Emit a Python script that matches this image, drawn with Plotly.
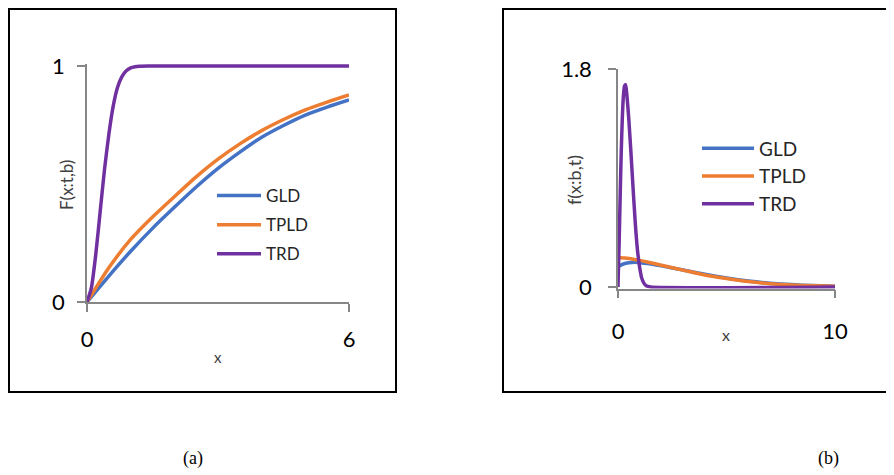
import plotly.graph_objects as go

# ---------- data ----------
series_names = ["GLD", "TPLD", "TRD"]
series_colors = ["#4472C4", "#ED7D31", "#7030A0"]

# panel (a): CDF F(x:t,b)
x_cdf = [0, 0.5, 1, 1.5, 2, 2.5, 3, 3.5, 4, 4.5, 5, 5.5, 6]
F_gld = [0, 0.11, 0.215, 0.312, 0.401, 0.487, 0.566, 0.635, 0.698, 0.748, 0.792, 0.826, 0.856]
F_tpld = [0, 0.145, 0.265, 0.36, 0.446, 0.53, 0.605, 0.67, 0.726, 0.773, 0.814, 0.847, 0.877]
x_cdf_trd = [0, 0.1, 0.2, 0.3, 0.4, 0.5, 0.6, 0.7, 0.8, 0.9, 1.0, 1.1, 1.2, 1.4, 6]
F_trd = [0, 0.06, 0.2, 0.38, 0.56, 0.71, 0.83, 0.91, 0.955, 0.98, 0.992, 0.997, 0.999, 1, 1]

# panel (b): PDF f(x:b,t)
x_pdf = [0, 0.25, 0.5, 0.75, 1, 1.5, 2, 3, 4, 5, 6, 7, 8, 9, 10]
f_gld = [0.17, 0.19, 0.2, 0.205, 0.2, 0.19, 0.175, 0.14, 0.105, 0.075, 0.05, 0.032, 0.02, 0.012, 0.007]
f_tpld = [0.245, 0.24, 0.235, 0.228, 0.22, 0.2, 0.18, 0.14, 0.1, 0.07, 0.045, 0.028, 0.017, 0.01, 0.006]
x_pdf_trd = [0, 0.05, 0.1, 0.15, 0.2, 0.25, 0.3, 0.35, 0.4, 0.5, 0.6, 0.7, 0.8, 0.9, 1.0, 1.1, 1.2, 1.3, 1.5, 10]
f_trd = [0, 0.35, 0.75, 1.12, 1.4, 1.58, 1.66, 1.67, 1.6, 1.38, 1.1, 0.8, 0.52, 0.3, 0.16, 0.07, 0.03, 0.01, 0, 0]

xticks_a = [0, 6]
yticks_a = [0, 1]
xticks_b = [0, 10]
yticks_b = [0, 1.8]
ytext_b = ["0", "1.8"]

W, H = 894, 475
OFF = 8  # page body margin of the browser
FONT = "Lato, 'Open Sans', sans-serif"
AX = "#868686"


def px(x):
    return (x - OFF) / W


def py(y):
    return 1 - (y - OFF) / H


fig = go.Figure()

cdf_sets = [(x_cdf, F_gld), (x_cdf, F_tpld), (x_cdf_trd, F_trd)]
pdf_sets = [(x_pdf, f_gld), (x_pdf, f_tpld), (x_pdf_trd, f_trd)]

for i, (xs, ys) in enumerate(cdf_sets):
    fig.add_trace(go.Scatter(
        x=xs, y=ys, mode="lines", name=series_names[i],
        line=dict(color=series_colors[i], width=3.5, shape="spline", smoothing=0.6),
        xaxis="x", yaxis="y", legend="legend", legendgroup="a%d" % i,
    ))
for i, (xs, ys) in enumerate(pdf_sets):
    fig.add_trace(go.Scatter(
        x=xs, y=ys, mode="lines", name=series_names[i],
        line=dict(color=series_colors[i], width=3.5, shape="spline", smoothing=0.6),
        xaxis="x2", yaxis="y2", legend="legend2", legendgroup="b%d" % i,
    ))

axis_common = dict(
    showgrid=False, zeroline=False, showline=True, linecolor=AX, linewidth=1.5,
    ticks="outside", ticklen=8, tickwidth=1.5, tickcolor=AX, automargin=False,
    tickfont=dict(family=FONT, size=22, color="#000000"),
)

fig.update_layout(
    template="none",
    width=W, height=H, autosize=False,
    margin=dict(l=0, r=0, t=0, b=0, pad=0, autoexpand=False),
    paper_bgcolor="white", plot_bgcolor="white",
    xaxis=dict(domain=[px(87), px(349)], range=[0, 6], tickvals=xticks_a,
               anchor="y", ticklabelstandoff=9, **axis_common),
    yaxis=dict(domain=[py(302), py(63.6)], range=[0, 1.01], tickvals=yticks_a,
               anchor="x", ticklabelstandoff=8, **axis_common),
    xaxis2=dict(domain=[px(618), px(835)], range=[0, 10], tickvals=xticks_b,
                anchor="y2", ticklabelstandoff=14, **axis_common),
    yaxis2=dict(domain=[py(288.5), py(69)], range=[-0.012, 1.8], tickvals=yticks_b,
                ticktext=ytext_b, anchor="x2", ticklabelstandoff=12, **axis_common),
    legend=dict(x=px(212), y=py(178), xanchor="left", yanchor="top",
                bgcolor="rgba(0,0,0,0)", borderwidth=0, traceorder="grouped", tracegroupgap=4,
                font=dict(family=FONT, size=17, color="#262626"), itemwidth=44),
    legend2=dict(x=px(697), y=py(129.5), xanchor="left", yanchor="top",
                 bgcolor="rgba(0,0,0,0)", borderwidth=0, traceorder="grouped", tracegroupgap=0,
                 font=dict(family=FONT, size=19, color="#262626"), itemwidth=52),
    showlegend=True,
)

# frames around each chart
fig.add_shape(type="rect", xref="paper", yref="paper",
              x0=px(9), x1=px(396), y0=py(392), y1=py(9),
              line=dict(color="black", width=2))
fig.add_shape(type="rect", xref="paper", yref="paper",
              x0=px(503), x1=px(905), y0=py(392), y1=py(9),
              line=dict(color="black", width=2))

ann = []
ann.append(dict(text="F(x:t,b)", x=px(66), y=py(185), textangle=-90,
                font=dict(family=FONT, size=17, color="#404040")))
ann.append(dict(text="x", x=px(218), y=py(357),
                font=dict(family=FONT, size=15, color="#404040")))
ann.append(dict(text="f(x:b,t)", x=px(574), y=py(180), textangle=-90,
                font=dict(family=FONT, size=18, color="#404040")))
ann.append(dict(text="x", x=px(726), y=py(334),
                font=dict(family=FONT, size=16, color="#404040")))
ann.append(dict(text="(a)", x=px(193), y=py(458),
                font=dict(family="'Liberation Serif', serif", size=18, color="#000000")))
ann.append(dict(text="(b)", x=px(828), y=py(458),
                font=dict(family="'Liberation Serif', serif", size=18, color="#000000")))
for a in ann:
    fig.add_annotation(xref="paper", yref="paper", showarrow=False,
                       xanchor="center", yanchor="middle", **a)

fig.write_html("out.html")
